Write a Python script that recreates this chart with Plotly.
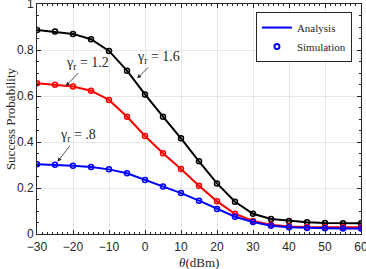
import plotly.graph_objects as go

theta = [-30, -25, -20, -15, -10, -5, 0, 5, 10, 15, 20, 25, 30, 35, 40, 45, 50, 55, 60]
p_16 = [0.887, 0.880, 0.870, 0.847, 0.796, 0.710, 0.607, 0.510, 0.416, 0.316, 0.220, 0.140,
        0.088, 0.065, 0.057, 0.051, 0.048, 0.047, 0.047]
p_12 = [0.655, 0.649, 0.641, 0.623, 0.583, 0.510, 0.426, 0.351, 0.283, 0.210, 0.142, 0.088,
        0.057, 0.040, 0.033, 0.030, 0.029, 0.029, 0.029]
p_08 = [0.303, 0.301, 0.297, 0.291, 0.281, 0.264, 0.235, 0.206, 0.178, 0.145, 0.109, 0.075,
        0.052, 0.036, 0.029, 0.026, 0.025, 0.024, 0.024]
series = [("1.6", p_16, "black"), ("1.2", p_12, "#ff0000"), (".8", p_08, "#0000ff")]
labels = ["γ<sub>r</sub> = 1.6", "γ<sub>r</sub> = 1.2", "γ<sub>r</sub> = .8"]
label_pts = [(-2.15, 0.677), (-22.0, 0.643), (-24.3, 0.314)]
label_off = [(21, -21), (22, -23), (20, -26)]
x_title = "<i>θ</i>(dBm)"
y_title = "Success Probability"

serif = "Liberation Serif"
ink = "#262626"

fig = go.Figure()
for name, ys, col in series:
    fig.add_trace(go.Scatter(x=theta, y=ys, mode="lines+markers", showlegend=False,
                             line=dict(color=col, width=2),
                             marker=dict(symbol="circle-open", size=5, color=col,
                                         line=dict(width=1.5, color=col))))
fig.add_trace(go.Scatter(x=[None], y=[None], mode="lines", name="Analysis",
                         line=dict(color="#0000ff", width=2)))
fig.add_trace(go.Scatter(x=[None], y=[None], mode="markers", name="Simulation",
                         marker=dict(symbol="circle-open", size=5, color="#0000ff",
                                     line=dict(width=2, color="#0000ff"))))

for txt, (px, py), (ax, ay) in zip(labels, label_pts, label_off):
    fig.add_annotation(x=px, y=py, text=txt, showarrow=True, ax=ax, ay=ay,
                       arrowhead=2, arrowsize=1, arrowwidth=0.8, arrowcolor=ink,
                       font=dict(family=serif, size=14, color=ink))

fig.add_annotation(x=0.5, y=-0.122, xref="paper", yref="paper", text=x_title,
                   showarrow=False, xanchor="center", yanchor="middle",
                   font=dict(family=serif, size=13, color=ink))
fig.add_annotation(x=-0.083, y=0.5, xref="paper", yref="paper", text=y_title,
                   showarrow=False, xanchor="center", yanchor="middle", textangle=-90,
                   font=dict(family=serif, size=13, color=ink))

fig.update_layout(
    width=366, height=269,
    margin=dict(l=37, r=5, t=4, b=35),
    paper_bgcolor="white", plot_bgcolor="white",
    font=dict(family="Liberation Sans", size=12, color=ink),
    legend=dict(x=0.972, y=0.965, xanchor="right", yanchor="top",
                bgcolor="white", bordercolor=ink, borderwidth=1,
                font=dict(family=serif, size=11, color=ink),
                tracegroupgap=0, itemwidth=30),
    xaxis=dict(range=[-30, 60], dtick=10, tick0=-30, showgrid=True, gridcolor="#e6e6e6",
               showline=True, linecolor=ink, linewidth=1, mirror="ticks", automargin=False,
               ticks="inside", ticklen=4, tickcolor=ink, zeroline=False,
               ticklabeloverflow="allow", ticklabelstandoff=2,
               minor=dict(dtick=10/7, tick0=-30, ticks="inside", ticklen=2, tickcolor=ink)),
    yaxis=dict(range=[0, 1], dtick=0.2, showgrid=True, gridcolor="#e6e6e6",
               showline=True, linecolor=ink, linewidth=1, mirror="ticks", automargin=False,
               ticks="inside", ticklen=4, tickcolor=ink, zeroline=False,
               tickformat=".1~f", ticklabeloverflow="allow",
               minor=dict(dtick=0.05, ticks="inside", ticklen=2, tickcolor=ink)),
)
fig.write_html("out.html", config={"displayModeBar": False},
               post_script="document.body.style.margin='0';")
